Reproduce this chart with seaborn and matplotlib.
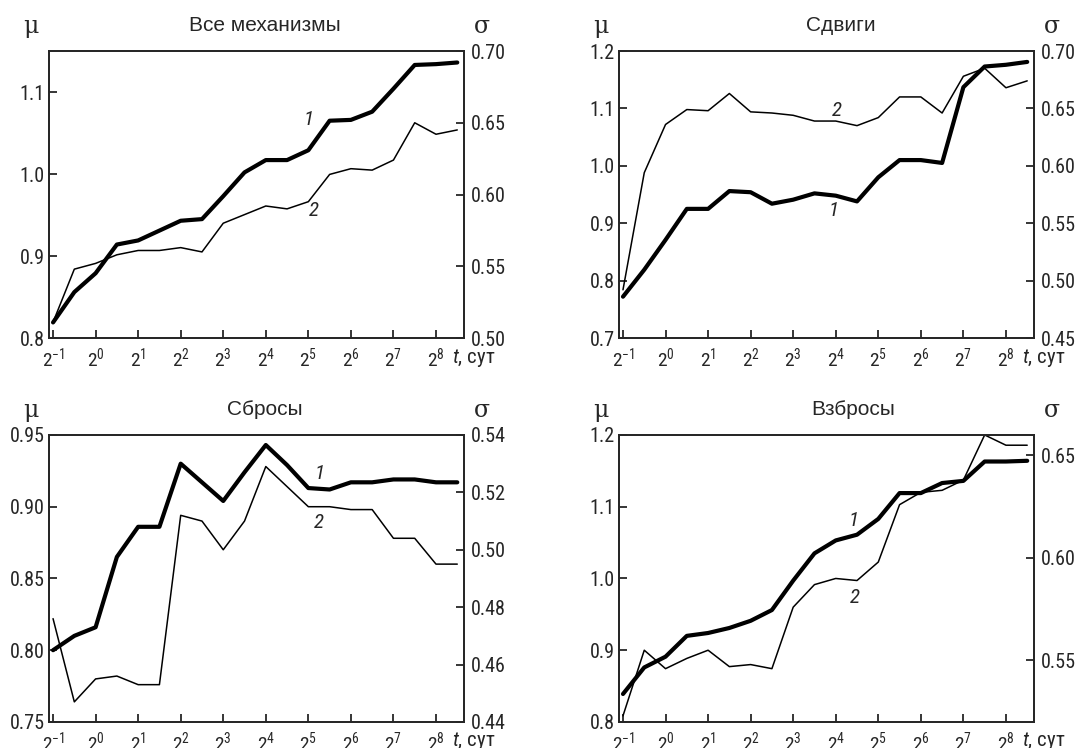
import numpy as np
import pandas as pd
import matplotlib
matplotlib.use("Agg")
import matplotlib.pyplot as plt
from matplotlib import font_manager as fm
import seaborn as sns

# время, показатель степени двойки (t = 2^k, сут)
t_exp = [-1, -0.5, 0, 0.5, 1, 1.5, 2, 2.5, 3, 3.5, 4, 4.5, 5, 5.5, 6, 6.5, 7, 7.5, 8, 8.5]

titles = ["Все механизмы", "Сдвиги", "Сбросы", "Взбросы"]

# кривая 1 -- mu (левая ось)
mu_all = [0.819, 0.856, 0.879, 0.914, 0.919, 0.931, 0.943, 0.945, 0.973, 1.002,
          1.017, 1.017, 1.029, 1.065, 1.066, 1.076, 1.104, 1.133, 1.134, 1.136]
mu_shift = [0.772, 0.819, 0.871, 0.925, 0.925, 0.956, 0.954, 0.934, 0.941, 0.952,
            0.948, 0.938, 0.980, 1.010, 1.010, 1.005, 1.137, 1.173, 1.176, 1.181]
mu_normal = [0.800, 0.810, 0.816, 0.865, 0.886, 0.886, 0.930, 0.917, 0.904, 0.924,
             0.943, 0.929, 0.913, 0.912, 0.917, 0.917, 0.919, 0.919, 0.917, 0.917]
mu_reverse = [0.839, 0.876, 0.891, 0.920, 0.924, 0.931, 0.941, 0.956, 0.997, 1.035,
              1.053, 1.061, 1.083, 1.119, 1.119, 1.133, 1.136, 1.163, 1.163, 1.164]

# кривая 2 -- sigma (правая ось)
sg_all = [0.511, 0.548, 0.552, 0.558, 0.561, 0.561, 0.563, 0.560, 0.580, 0.586,
          0.592, 0.590, 0.595, 0.614, 0.618, 0.617, 0.624, 0.650, 0.642, 0.645]
sg_shift = [0.492, 0.594, 0.636, 0.649, 0.648, 0.663, 0.647, 0.646, 0.644, 0.639,
            0.639, 0.635, 0.642, 0.660, 0.660, 0.646, 0.678, 0.685, 0.668, 0.674]
sg_normal = [0.476, 0.447, 0.455, 0.456, 0.453, 0.453, 0.512, 0.510, 0.500, 0.510,
             0.529, 0.522, 0.515, 0.515, 0.514, 0.514, 0.504, 0.504, 0.495, 0.495]
sg_reverse = [0.523, 0.555, 0.546, 0.551, 0.555, 0.547, 0.548, 0.546, 0.576, 0.587,
              0.590, 0.589, 0.598, 0.626, 0.632, 0.633, 0.638, 0.660, 0.655, 0.655]

mu_lims = [(0.8, 1.15), (0.7, 1.2), (0.75, 0.95), (0.8, 1.2)]
mu_ticks = [[0.8, 0.9, 1.0, 1.1], [0.7, 0.8, 0.9, 1.0, 1.1, 1.2],
            [0.75, 0.80, 0.85, 0.90, 0.95], [0.8, 0.9, 1.0, 1.1, 1.2]]
mu_fmt = ["%.1f", "%.1f", "%.2f", "%.1f"]
sg_lims = [(0.50, 0.70), (0.45, 0.70), (0.44, 0.54), (0.52, 0.66)]
sg_ticks = [[0.50, 0.55, 0.60, 0.65, 0.70], [0.45, 0.50, 0.55, 0.60, 0.65, 0.70],
            [0.44, 0.46, 0.48, 0.50, 0.52, 0.54], [0.55, 0.60, 0.65]]

# подписи кривых (k, mu)
lab1 = [(5.0, 1.066), (3.95, 0.923), (5.27, 0.923), (4.43, 1.081)]
lab2 = [(5.14, 0.955), (4.03, 1.097), (5.25, 0.889), (4.45, 0.974)]

mus = [mu_all, mu_shift, mu_normal, mu_reverse]
sgs = [sg_all, sg_shift, sg_normal, sg_reverse]

sns.set_style("ticks")

# узкий шрифт для цифр, если есть
names = {f.name for f in fm.fontManager.ttflist}
narrow = None
for nm in ["Liberation Sans Narrow", "Roboto Condensed", "Open Sans Condensed",
           "Arial Narrow", "Noto Sans Display"]:
    if nm in names:
        narrow = nm
        break
condensed = any(f.name == "DejaVu Sans" and str(f.stretch) in ("condensed", "semi-condensed")
                for f in fm.fontManager.ttflist)
if narrow is None:
    if condensed:
        narrow = "DejaVu Sans"
        plt.rcParams["font.stretch"] = "condensed"
    else:
        narrow = "Roboto"

plt.rcParams["font.family"] = [narrow, "Liberation Sans", "DejaVu Sans"]
plt.rcParams["mathtext.fontset"] = "custom"
plt.rcParams["mathtext.rm"] = narrow
plt.rcParams["mathtext.it"] = narrow + ":italic"

fig = plt.figure(figsize=(10.78, 7.48), dpi=100)
# положение панелей в долях фигуры
boxes = [(0.0455, 0.5481, 0.385, 0.3837), (0.5742, 0.5481, 0.385, 0.3837),
         (0.0455, 0.0348, 0.385, 0.3837), (0.5742, 0.0348, 0.385, 0.3837)]
title_x = [0.52, 0.534, 0.52, 0.564]

for i in range(4):
    ax = fig.add_axes(boxes[i])
    df = pd.DataFrame({"k": t_exp, "mu": mus[i], "sigma": sgs[i]})
    sns.lineplot(data=df, x="k", y="mu", ax=ax, color="black", lw=3.0)
    ax2 = ax.twinx()
    sns.lineplot(data=df, x="k", y="sigma", ax=ax2, color="black", lw=1.1)

    ax.set_xlim(-1.094, 8.66)
    ax.set_ylim(*mu_lims[i])
    ax2.set_ylim(*sg_lims[i])
    ax.set_xticks(range(-1, 9))
    ax.set_xticklabels([r"$2^{%d}$" % k for k in range(-1, 9)], fontsize=14)
    ax.set_yticks(mu_ticks[i])
    ax.set_yticklabels([mu_fmt[i] % v for v in mu_ticks[i]], fontsize=14.5)
    ax2.set_yticks(sg_ticks[i])
    ax2.set_yticklabels(["%.2f" % v for v in sg_ticks[i]], fontsize=14.5)
    ax.set_xlabel("")
    ax.set_ylabel("")
    ax2.set_ylabel("")
    ax.tick_params(axis="y", direction="in", length=6, width=1.3, pad=3)
    ax.tick_params(axis="x", direction="in", length=6, width=1.3, pad=6)
    ax2.tick_params(axis="y", direction="in", length=6, width=1.3, pad=5)
    for a in (ax, ax2):
        for s in a.spines.values():
            s.set_linewidth(1.3)

    ax.text(title_x[i], 1.09, titles[i], transform=ax.transAxes, ha="center",
            va="center", fontsize=15, family=["Liberation Sans", "DejaVu Sans"])
    ax.text(-0.043, 1.084, "μ", transform=ax.transAxes, ha="center", va="center",
            fontsize=17, family=["DejaVu Serif"])
    ax.text(1.042, 1.084, "σ", transform=ax.transAxes, ha="center", va="center",
            fontsize=17, family=["DejaVu Serif"])
    ax.text(0.972, -0.068, r"$t$, сут", transform=ax.transAxes, ha="left",
            va="center", fontsize=15)
    ax.text(*lab1[i], "1", style="italic", fontsize=15, ha="center", va="center")
    ax.text(*lab2[i], "2", style="italic", fontsize=15, ha="center", va="center")

fig.savefig("out.png", dpi=100)
